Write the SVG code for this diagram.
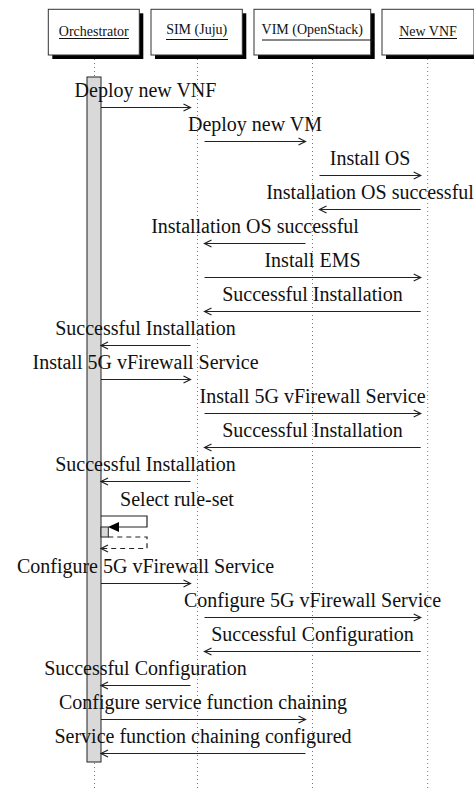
<svg xmlns="http://www.w3.org/2000/svg" width="474" height="792" viewBox="0 0 474 792">
<style>
.hdr{font-family:"Liberation Serif","Times New Roman",serif;font-size:14px;fill:#111;text-anchor:middle}
.lbl{font-family:"Liberation Serif","Times New Roman",serif;font-size:20px;fill:#111;text-anchor:middle}
.box{fill:#fff;stroke:#333;stroke-width:1}
.shadow{fill:#000}
.ul{stroke:#111;stroke-width:1}
.life{stroke:#777;stroke-width:1;stroke-dasharray:1 3}
.msg{stroke:#222;stroke-width:1.2;fill:none;marker-end:url(#arr)}
.dash{stroke:#222;stroke-width:1.2;fill:none;stroke-dasharray:5 4}
.act{fill:#d9d9d9;stroke:#222;stroke-width:1}
</style>
<defs>
<marker id="arr" markerUnits="userSpaceOnUse" markerWidth="12" markerHeight="12" viewBox="-9 -6 12 12" refX="0" refY="0" orient="auto">
<path d="M-7,-3.5 L0,0 L-7,3.5" fill="none" stroke="#222" stroke-width="1.2"/>
</marker>
</defs>
<rect width="474" height="792" fill="#fff"/>

<g id="lifelines">
<line class="life" x1="94.5" y1="59" x2="94.5" y2="788"/>
<line class="life" x1="197.5" y1="59" x2="197.5" y2="788"/>
<line class="life" x1="312.5" y1="59" x2="312.5" y2="788"/>
<line class="life" x1="427.7" y1="59" x2="427.7" y2="788"/>
</g>

<g id="orchestrator">
<rect class="shadow" x="52.3" y="13.3" width="91" height="45.7"/>
<rect class="box" x="48.3" y="9.3" width="91" height="45.7"/>
<text class="hdr" x="93.8" y="35.5">Orchestrator</text>
<line class="ul" x1="59" y1="38.5" x2="129" y2="38.5"/>
</g>
<g id="sim">
<rect class="shadow" x="155" y="13.3" width="91.3" height="45.7"/>
<rect class="box" x="151" y="9.3" width="91.3" height="45.7"/>
<text class="hdr" x="196.7" y="33.5">SIM (Juju)</text>
<line class="ul" x1="166" y1="39.5" x2="228" y2="39.5"/>
</g>
<g id="vim">
<rect class="shadow" x="258" y="13.3" width="116.7" height="45.7"/>
<rect class="box" x="254" y="9.3" width="116.7" height="45.7"/>
<text class="hdr" x="312.3" y="33.5">VIM (OpenStack)</text>
<line class="ul" x1="262" y1="40" x2="373" y2="40"/>
</g>
<g id="newvnf">
<rect class="shadow" x="386" y="13.3" width="92" height="45.7"/>
<rect class="box" x="382" y="9.3" width="92" height="45.7"/>
<text class="hdr" x="428" y="35.5">New VNF</text>
<line class="ul" x1="399" y1="38.5" x2="457" y2="38.5"/>
</g>

<g id="activation">
<rect class="act" x="87" y="77" width="14" height="685"/>
</g>

<g id="connectors">
<line class="msg" x1="101" y1="107.5" x2="190.5" y2="107.5"/>
<line class="msg" x1="204.5" y1="141.5" x2="305.5" y2="141.5"/>
<line class="msg" x1="319.5" y1="175.5" x2="420.7" y2="175.5"/>
<line class="msg" x1="420.7" y1="209.5" x2="319.5" y2="209.5"/>
<line class="msg" x1="305.5" y1="243.5" x2="204.5" y2="243.5"/>
<line class="msg" x1="204.5" y1="277.5" x2="420.7" y2="277.5"/>
<line class="msg" x1="420.7" y1="311.5" x2="204.5" y2="311.5"/>
<line class="msg" x1="190.5" y1="345.5" x2="101" y2="345.5"/>
<line class="msg" x1="101" y1="379.5" x2="190.5" y2="379.5"/>
<line class="msg" x1="204.5" y1="413.5" x2="420.7" y2="413.5"/>
<line class="msg" x1="420.7" y1="447.5" x2="204.5" y2="447.5"/>
<line class="msg" x1="190.5" y1="481.5" x2="101" y2="481.5"/>
<path d="M101,516 H147 V527 H118" fill="none" stroke="#222" stroke-width="1.2"/>
<polygon points="108,527 119,522 119,532" fill="#000"/>
<rect class="act" x="101" y="527" width="7.3" height="10"/>
<path class="dash" d="M108.3,537 H147 V548.5 H102"/>
<path d="M108,545 L101,548.5 L108,552" fill="none" stroke="#222" stroke-width="1.2"/>
<line class="msg" x1="101" y1="583.5" x2="190.5" y2="583.5"/>
<line class="msg" x1="204.5" y1="617.5" x2="420.7" y2="617.5"/>
<line class="msg" x1="420.7" y1="651.5" x2="204.5" y2="651.5"/>
<line class="msg" x1="190.5" y1="685.5" x2="101" y2="685.5"/>
<line class="msg" x1="101" y1="719.5" x2="305.5" y2="719.5"/>
<line class="msg" x1="305.5" y1="753.5" x2="101" y2="753.5"/>
</g>

<g id="labels">
<text class="lbl" x="145.5" y="96.5">Deploy new VNF</text>
<text class="lbl" x="255" y="130.5">Deploy new VM</text>
<text class="lbl" x="370" y="164.5">Install OS</text>
<text class="lbl" x="370" y="198.5">Installation OS successful</text>
<text class="lbl" x="255" y="232.5">Installation OS successful</text>
<text class="lbl" x="312.5" y="266.5">Install EMS</text>
<text class="lbl" x="312.5" y="300.5">Successful Installation</text>
<text class="lbl" x="145.5" y="334.5">Successful Installation</text>
<text class="lbl" x="145.5" y="368.5">Install 5G vFirewall Service</text>
<text class="lbl" x="312.5" y="402.5">Install 5G vFirewall Service</text>
<text class="lbl" x="312.5" y="436.5">Successful Installation</text>
<text class="lbl" x="145.5" y="470.5">Successful Installation</text>
<text class="lbl" x="177" y="506">Select rule-set</text>
<text class="lbl" x="145.5" y="572.5">Configure 5G vFirewall Service</text>
<text class="lbl" x="312.5" y="606.5">Configure 5G vFirewall Service</text>
<text class="lbl" x="312.5" y="640.5">Successful Configuration</text>
<text class="lbl" x="145.5" y="674.5">Successful Configuration</text>
<text class="lbl" x="203" y="708.5">Configure service function chaining</text>
<text class="lbl" x="203" y="742.5">Service function chaining configured</text>
</g>
</svg>
